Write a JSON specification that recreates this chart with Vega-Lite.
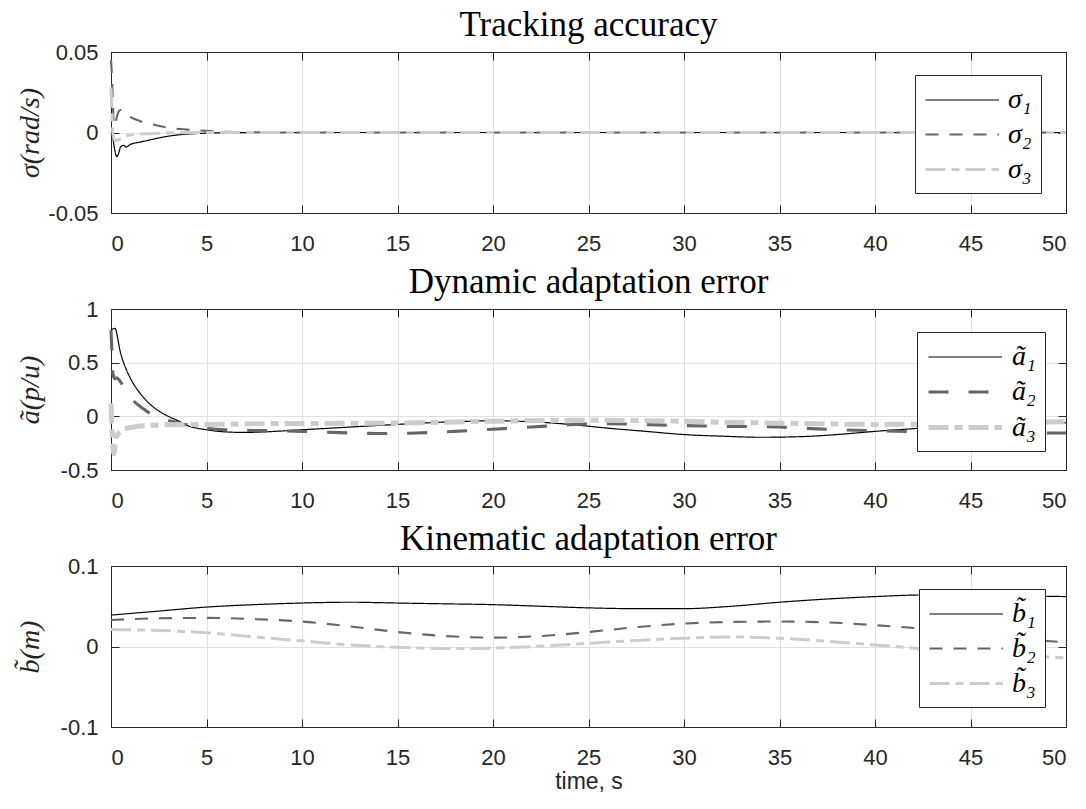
{
  "$schema": "https://vega.github.io/schema/vega-lite/v6.json",
  "padding": {"left": 15, "top": 7, "right": 10, "bottom": 4},
  "background": "white",
  "spacing": 9,
  "resolve": {
    "scale": {"x": "independent", "y": "independent", "color": "independent", "strokeDash": "independent", "strokeWidth": "independent"},
    "legend": {"color": "independent", "strokeDash": "independent", "strokeWidth": "independent"}
  },
  "config": {
    "view": {"stroke": "#262626", "strokeWidth": 1},
    "title": {"font": "Liberation Serif", "fontSize": 35, "fontWeight": "normal", "color": "#000000", "offset": -2},
    "axis": {
      "labelFont": "Liberation Sans", "labelFontSize": 22, "labelColor": "#262626",
      "titleFont": "Liberation Serif", "titleFontSize": 28, "titleFontWeight": "normal", "titleFontStyle": "italic", "titleColor": "#262626",
      "gridColor": "#e0e0e0", "gridWidth": 1, "domainColor": "#262626", "tickColor": "#262626",
      "tickSize": -8, "labelPadding": 28
    },
    "axisLeft": {"labelPadding": 21, "titleX": -81, "titleBaseline": "middle"},
    "legend": {
      "orient": "none", "legendY": 23, "title": null, "strokeColor": "#262626", "fillColor": "white", "padding": 9,
      "symbolType": "M-1,0H3.9", "symbolSize": 900, "labelFont": "Liberation Serif", "labelFontSize": 28, "labelFontStyle": "italic",
      "labelColor": "#000000", "rowPadding": 4, "labelOffset": 51
    }
  },
  "datasets": {
    "p1": [
      {"t": 0, "v": 0, "s": "σ₁"}, {"t": 0.1, "v": -0.004, "s": "σ₁"}, {"t": 0.2, "v": -0.011, "s": "σ₁"}, {"t": 0.3, "v": -0.015, "s": "σ₁"}, {"t": 0.4, "v": -0.013, "s": "σ₁"}, {"t": 0.5, "v": -0.009, "s": "σ₁"}, {"t": 0.65, "v": -0.008, "s": "σ₁"}, {"t": 0.8, "v": -0.009, "s": "σ₁"}, {"t": 1.0, "v": -0.0075, "s": "σ₁"}, {"t": 1.5, "v": -0.006, "s": "σ₁"}, {"t": 2, "v": -0.0047, "s": "σ₁"}, {"t": 2.5, "v": -0.0034, "s": "σ₁"}, {"t": 3, "v": -0.0023, "s": "σ₁"}, {"t": 3.5, "v": -0.0015, "s": "σ₁"}, {"t": 4, "v": -0.001, "s": "σ₁"}, {"t": 5, "v": -0.0004, "s": "σ₁"}, {"t": 6, "v": -0.0002, "s": "σ₁"}, {"t": 8, "v": 0, "s": "σ₁"}, {"t": 20, "v": 0, "s": "σ₁"}, {"t": 35, "v": 0, "s": "σ₁"}, {"t": 50, "v": 0, "s": "σ₁"},
      {"t": 0, "v": 0.045, "s": "σ₂"}, {"t": 0.05, "v": 0.035, "s": "σ₂"}, {"t": 0.1, "v": 0.018, "s": "σ₂"}, {"t": 0.15, "v": 0.004, "s": "σ₂"}, {"t": 0.25, "v": 0.007, "s": "σ₂"}, {"t": 0.4, "v": 0.013, "s": "σ₂"}, {"t": 0.5, "v": 0.014, "s": "σ₂"}, {"t": 0.7, "v": 0.0125, "s": "σ₂"}, {"t": 1, "v": 0.0097, "s": "σ₂"}, {"t": 1.5, "v": 0.0072, "s": "σ₂"}, {"t": 2, "v": 0.0055, "s": "σ₂"}, {"t": 3, "v": 0.003, "s": "σ₂"}, {"t": 4, "v": 0.0018, "s": "σ₂"}, {"t": 5, "v": 0.001, "s": "σ₂"}, {"t": 6, "v": 0.0005, "s": "σ₂"}, {"t": 8, "v": 0.0001, "s": "σ₂"}, {"t": 10, "v": 0, "s": "σ₂"}, {"t": 25, "v": 0, "s": "σ₂"}, {"t": 50, "v": 0, "s": "σ₂"},
      {"t": 0, "v": 0.028, "s": "σ₃"}, {"t": 0.05, "v": 0.012, "s": "σ₃"}, {"t": 0.1, "v": -0.001, "s": "σ₃"}, {"t": 0.2, "v": -0.005, "s": "σ₃"}, {"t": 0.4, "v": -0.0045, "s": "σ₃"}, {"t": 0.7, "v": -0.0025, "s": "σ₃"}, {"t": 1, "v": -0.0016, "s": "σ₃"}, {"t": 2, "v": -0.0007, "s": "σ₃"}, {"t": 3, "v": -0.0003, "s": "σ₃"}, {"t": 5, "v": 0, "s": "σ₃"}, {"t": 20, "v": 0, "s": "σ₃"}, {"t": 35, "v": 0, "s": "σ₃"}, {"t": 50, "v": 0, "s": "σ₃"}
    ],
    "p2": [
      {"t": 0, "v": 0.8, "s": "ã₁"}, {"t": 0.2, "v": 0.82, "s": "ã₁"}, {"t": 0.5, "v": 0.59, "s": "ã₁"}, {"t": 1, "v": 0.36, "s": "ã₁"}, {"t": 1.5, "v": 0.22, "s": "ã₁"}, {"t": 2, "v": 0.12, "s": "ã₁"}, {"t": 2.5, "v": 0.05, "s": "ã₁"}, {"t": 3, "v": 0.0, "s": "ã₁"}, {"t": 3.5, "v": -0.04, "s": "ã₁"}, {"t": 4, "v": -0.085, "s": "ã₁"}, {"t": 5, "v": -0.125, "s": "ã₁"}, {"t": 6, "v": -0.145, "s": "ã₁"}, {"t": 7, "v": -0.15, "s": "ã₁"}, {"t": 8, "v": -0.145, "s": "ã₁"}, {"t": 10, "v": -0.125, "s": "ã₁"}, {"t": 12, "v": -0.105, "s": "ã₁"}, {"t": 15, "v": -0.075, "s": "ã₁"}, {"t": 18, "v": -0.05, "s": "ã₁"}, {"t": 20, "v": -0.042, "s": "ã₁"}, {"t": 22, "v": -0.05, "s": "ã₁"}, {"t": 24, "v": -0.075, "s": "ã₁"}, {"t": 26, "v": -0.11, "s": "ã₁"}, {"t": 28, "v": -0.14, "s": "ã₁"}, {"t": 30, "v": -0.17, "s": "ã₁"}, {"t": 32, "v": -0.185, "s": "ã₁"}, {"t": 34, "v": -0.195, "s": "ã₁"}, {"t": 36, "v": -0.19, "s": "ã₁"}, {"t": 38, "v": -0.17, "s": "ã₁"}, {"t": 40, "v": -0.14, "s": "ã₁"}, {"t": 42, "v": -0.115, "s": "ã₁"}, {"t": 44, "v": -0.09, "s": "ã₁"}, {"t": 46, "v": -0.075, "s": "ã₁"}, {"t": 48, "v": -0.065, "s": "ã₁"}, {"t": 50, "v": -0.06, "s": "ã₁"},
      {"t": 0, "v": 0.8, "s": "ã₂"}, {"t": 0.05, "v": 0.6, "s": "ã₂"}, {"t": 0.1, "v": 0.4, "s": "ã₂"}, {"t": 0.2, "v": 0.35, "s": "ã₂"}, {"t": 0.3, "v": 0.36, "s": "ã₂"}, {"t": 0.5, "v": 0.32, "s": "ã₂"}, {"t": 0.8, "v": 0.23, "s": "ã₂"}, {"t": 1.2, "v": 0.14, "s": "ã₂"}, {"t": 1.7, "v": 0.07, "s": "ã₂"}, {"t": 2.2, "v": 0.01, "s": "ã₂"}, {"t": 2.8, "v": -0.03, "s": "ã₂"}, {"t": 3.5, "v": -0.06, "s": "ã₂"}, {"t": 4.5, "v": -0.1, "s": "ã₂"}, {"t": 6, "v": -0.125, "s": "ã₂"}, {"t": 8, "v": -0.133, "s": "ã₂"}, {"t": 10, "v": -0.14, "s": "ã₂"}, {"t": 12, "v": -0.152, "s": "ã₂"}, {"t": 14, "v": -0.16, "s": "ã₂"}, {"t": 16, "v": -0.155, "s": "ã₂"}, {"t": 18, "v": -0.14, "s": "ã₂"}, {"t": 20, "v": -0.12, "s": "ã₂"}, {"t": 22, "v": -0.1, "s": "ã₂"}, {"t": 24, "v": -0.078, "s": "ã₂"}, {"t": 25.5, "v": -0.068, "s": "ã₂"}, {"t": 27, "v": -0.072, "s": "ã₂"}, {"t": 29, "v": -0.082, "s": "ã₂"}, {"t": 31, "v": -0.09, "s": "ã₂"}, {"t": 33, "v": -0.095, "s": "ã₂"}, {"t": 35, "v": -0.1, "s": "ã₂"}, {"t": 37, "v": -0.117, "s": "ã₂"}, {"t": 39, "v": -0.13, "s": "ã₂"}, {"t": 41, "v": -0.138, "s": "ã₂"}, {"t": 43, "v": -0.15, "s": "ã₂"}, {"t": 45, "v": -0.155, "s": "ã₂"}, {"t": 47, "v": -0.155, "s": "ã₂"}, {"t": 50, "v": -0.155, "s": "ã₂"},
      {"t": 0, "v": 0.12, "s": "ã₃"}, {"t": 0.05, "v": -0.1, "s": "ã₃"}, {"t": 0.15, "v": -0.35, "s": "ã₃"}, {"t": 0.25, "v": -0.2, "s": "ã₃"}, {"t": 0.5, "v": -0.14, "s": "ã₃"}, {"t": 1, "v": -0.105, "s": "ã₃"}, {"t": 2, "v": -0.085, "s": "ã₃"}, {"t": 3, "v": -0.078, "s": "ã₃"}, {"t": 5, "v": -0.075, "s": "ã₃"}, {"t": 8, "v": -0.068, "s": "ã₃"}, {"t": 12, "v": -0.065, "s": "ã₃"}, {"t": 16, "v": -0.06, "s": "ã₃"}, {"t": 20, "v": -0.045, "s": "ã₃"}, {"t": 24, "v": -0.037, "s": "ã₃"}, {"t": 28, "v": -0.04, "s": "ã₃"}, {"t": 32, "v": -0.055, "s": "ã₃"}, {"t": 36, "v": -0.066, "s": "ã₃"}, {"t": 40, "v": -0.075, "s": "ã₃"}, {"t": 44, "v": -0.07, "s": "ã₃"}, {"t": 47, "v": -0.06, "s": "ã₃"}, {"t": 50, "v": -0.05, "s": "ã₃"}
    ],
    "p3": [
      {"t": 0, "v": 0.039, "s": "b̃₁"}, {"t": 2.5, "v": 0.044, "s": "b̃₁"}, {"t": 5, "v": 0.049, "s": "b̃₁"}, {"t": 7.5, "v": 0.052, "s": "b̃₁"}, {"t": 10, "v": 0.054, "s": "b̃₁"}, {"t": 12.5, "v": 0.055, "s": "b̃₁"}, {"t": 15, "v": 0.054, "s": "b̃₁"}, {"t": 17.5, "v": 0.053, "s": "b̃₁"}, {"t": 20, "v": 0.052, "s": "b̃₁"}, {"t": 22.5, "v": 0.05, "s": "b̃₁"}, {"t": 25, "v": 0.048, "s": "b̃₁"}, {"t": 27.5, "v": 0.047, "s": "b̃₁"}, {"t": 30, "v": 0.047, "s": "b̃₁"}, {"t": 32.5, "v": 0.05, "s": "b̃₁"}, {"t": 35, "v": 0.055, "s": "b̃₁"}, {"t": 37.5, "v": 0.059, "s": "b̃₁"}, {"t": 40, "v": 0.062, "s": "b̃₁"}, {"t": 42.5, "v": 0.064, "s": "b̃₁"}, {"t": 45, "v": 0.064, "s": "b̃₁"}, {"t": 47.5, "v": 0.063, "s": "b̃₁"}, {"t": 50, "v": 0.062, "s": "b̃₁"},
      {"t": 0, "v": 0.033, "s": "b̃₂"}, {"t": 2.5, "v": 0.035, "s": "b̃₂"}, {"t": 5, "v": 0.0355, "s": "b̃₂"}, {"t": 7.5, "v": 0.034, "s": "b̃₂"}, {"t": 10, "v": 0.031, "s": "b̃₂"}, {"t": 12.5, "v": 0.025, "s": "b̃₂"}, {"t": 15, "v": 0.018, "s": "b̃₂"}, {"t": 17.5, "v": 0.013, "s": "b̃₂"}, {"t": 20, "v": 0.011, "s": "b̃₂"}, {"t": 22.5, "v": 0.013, "s": "b̃₂"}, {"t": 25, "v": 0.018, "s": "b̃₂"}, {"t": 27.5, "v": 0.024, "s": "b̃₂"}, {"t": 30, "v": 0.0285, "s": "b̃₂"}, {"t": 32.5, "v": 0.0305, "s": "b̃₂"}, {"t": 35, "v": 0.031, "s": "b̃₂"}, {"t": 37.5, "v": 0.03, "s": "b̃₂"}, {"t": 40, "v": 0.0265, "s": "b̃₂"}, {"t": 42.5, "v": 0.022, "s": "b̃₂"}, {"t": 45, "v": 0.016, "s": "b̃₂"}, {"t": 47.5, "v": 0.01, "s": "b̃₂"}, {"t": 50, "v": 0.005, "s": "b̃₂"},
      {"t": 0, "v": 0.021, "s": "b̃₃"}, {"t": 2.5, "v": 0.02, "s": "b̃₃"}, {"t": 5, "v": 0.017, "s": "b̃₃"}, {"t": 7.5, "v": 0.012, "s": "b̃₃"}, {"t": 10, "v": 0.007, "s": "b̃₃"}, {"t": 12.5, "v": 0.002, "s": "b̃₃"}, {"t": 15, "v": -0.001, "s": "b̃₃"}, {"t": 17.5, "v": -0.0025, "s": "b̃₃"}, {"t": 20, "v": -0.002, "s": "b̃₃"}, {"t": 22.5, "v": 0.0005, "s": "b̃₃"}, {"t": 25, "v": 0.004, "s": "b̃₃"}, {"t": 27.5, "v": 0.0075, "s": "b̃₃"}, {"t": 30, "v": 0.0102, "s": "b̃₃"}, {"t": 32.5, "v": 0.0118, "s": "b̃₃"}, {"t": 35, "v": 0.0102, "s": "b̃₃"}, {"t": 37.5, "v": 0.0065, "s": "b̃₃"}, {"t": 40, "v": 0.002, "s": "b̃₃"}, {"t": 42.5, "v": -0.003, "s": "b̃₃"}, {"t": 45, "v": -0.008, "s": "b̃₃"}, {"t": 47.5, "v": -0.011, "s": "b̃₃"}, {"t": 50, "v": -0.014, "s": "b̃₃"}
    ]
  },
  "vconcat": [
    {
      "width": 955, "height": 161,
      "title": "Tracking accuracy",
      "data": {"name": "p1"},
      "resolve": {"axis": {"x": "independent", "y": "independent"}},
      "layer": [
        {
          "mark": {"type": "line", "interpolate": "monotone"},
          "encoding": {
            "x": {"field": "t", "type": "quantitative", "scale": {"domain": [0, 50], "nice": false}, "axis": {"values": [0, 5, 10, 15, 20, 25, 30, 35, 40, 45, 50], "title": null}},
            "y": {"field": "v", "type": "quantitative", "scale": {"domain": [-0.05, 0.05], "nice": false}, "axis": {"values": [-0.05, 0, 0.05], "labelExpr": "toString(datum.value)", "title": "σ(rad/s)"}},
            "color": {"field": "s", "type": "nominal", "scale": {"domain": ["σ₁", "σ₂", "σ₃"], "range": ["#000000", "#666666", "#cccccc"]}, "legend": {"legendX": 804}},
            "strokeDash": {"field": "s", "type": "nominal", "scale": {"domain": ["σ₁", "σ₂", "σ₃"], "range": [[1, 0], [13, 11], [20, 6, 8, 6]]}, "legend": {"legendX": 804}},
            "strokeWidth": {"field": "s", "type": "ordinal", "scale": {"domain": ["σ₁", "σ₂", "σ₃"], "range": [1.2, 3, 4.5]}, "legend": {"legendX": 804}}
          }
        },
        {
          "mark": {"type": "line", "strokeOpacity": 0},
          "encoding": {
            "x": {"field": "t", "type": "quantitative", "axis": {"orient": "top", "values": [0, 5, 10, 15, 20, 25, 30, 35, 40, 45, 50], "labels": false, "grid": false, "title": null}},
            "y": {"field": "v", "type": "quantitative", "axis": {"orient": "right", "values": [-0.05, 0, 0.05], "labels": false, "grid": false, "title": null}}
          }
        }
      ]
    },
    {
      "width": 955, "height": 161,
      "title": "Dynamic adaptation error",
      "data": {"name": "p2"},
      "resolve": {"axis": {"x": "independent", "y": "independent"}},
      "layer": [
        {
          "mark": {"type": "line", "interpolate": "monotone"},
          "encoding": {
            "x": {"field": "t", "type": "quantitative", "scale": {"domain": [0, 50], "nice": false}, "axis": {"values": [0, 5, 10, 15, 20, 25, 30, 35, 40, 45, 50], "title": null}},
            "y": {"field": "v", "type": "quantitative", "scale": {"domain": [-0.5, 1], "nice": false}, "axis": {"values": [-0.5, 0, 0.5, 1], "labelExpr": "toString(datum.value)", "title": "ã(p/u)"}},
            "color": {"field": "s", "type": "nominal", "scale": {"domain": ["ã₁", "ã₂", "ã₃"], "range": ["#000000", "#666666", "#cccccc"]}, "legend": {"legendX": 806}},
            "strokeDash": {"field": "s", "type": "nominal", "scale": {"domain": ["ã₁", "ã₂", "ã₃"], "range": [[1, 0], [20, 20], [20, 6, 8, 6]]}, "legend": {"legendX": 806}},
            "strokeWidth": {"field": "s", "type": "ordinal", "scale": {"domain": ["ã₁", "ã₂", "ã₃"], "range": [1.2, 5, 4.5]}, "legend": {"legendX": 806}}
          }
        },
        {
          "mark": {"type": "line", "strokeOpacity": 0},
          "encoding": {
            "x": {"field": "t", "type": "quantitative", "axis": {"orient": "top", "values": [0, 5, 10, 15, 20, 25, 30, 35, 40, 45, 50], "labels": false, "grid": false, "title": null}},
            "y": {"field": "v", "type": "quantitative", "axis": {"orient": "right", "values": [-0.5, 0, 0.5, 1], "labels": false, "grid": false, "title": null}}
          }
        }
      ]
    },
    {
      "width": 955, "height": 161,
      "title": "Kinematic adaptation error",
      "data": {"name": "p3"},
      "resolve": {"axis": {"x": "independent", "y": "independent"}},
      "layer": [
        {
          "mark": {"type": "line", "interpolate": "monotone"},
          "encoding": {
            "x": {"field": "t", "type": "quantitative", "scale": {"domain": [0, 50], "nice": false}, "axis": {"values": [0, 5, 10, 15, 20, 25, 30, 35, 40, 45, 50], "title": "time, s", "titleFont": "Liberation Sans", "titleFontStyle": "normal", "titleFontSize": 23, "titlePadding": 2}},
            "y": {"field": "v", "type": "quantitative", "scale": {"domain": [-0.1, 0.1], "nice": false}, "axis": {"values": [-0.1, 0, 0.1], "labelExpr": "toString(datum.value)", "title": "b̃(m)"}},
            "color": {"field": "s", "type": "nominal", "scale": {"domain": ["b̃₁", "b̃₂", "b̃₃"], "range": ["#000000", "#666666", "#cccccc"]}, "legend": {"legendX": 808}},
            "strokeDash": {"field": "s", "type": "nominal", "scale": {"domain": ["b̃₁", "b̃₂", "b̃₃"], "range": [[1, 0], [13, 11], [20, 6, 8, 6]]}, "legend": {"legendX": 808}},
            "strokeWidth": {"field": "s", "type": "ordinal", "scale": {"domain": ["b̃₁", "b̃₂", "b̃₃"], "range": [1.2, 3, 4.5]}, "legend": {"legendX": 808}}
          }
        },
        {
          "mark": {"type": "line", "strokeOpacity": 0},
          "encoding": {
            "x": {"field": "t", "type": "quantitative", "axis": {"orient": "top", "values": [0, 5, 10, 15, 20, 25, 30, 35, 40, 45, 50], "labels": false, "grid": false, "title": null}},
            "y": {"field": "v", "type": "quantitative", "axis": {"orient": "right", "values": [-0.1, 0, 0.1], "labels": false, "grid": false, "title": null}}
          }
        }
      ]
    }
  ]
}
